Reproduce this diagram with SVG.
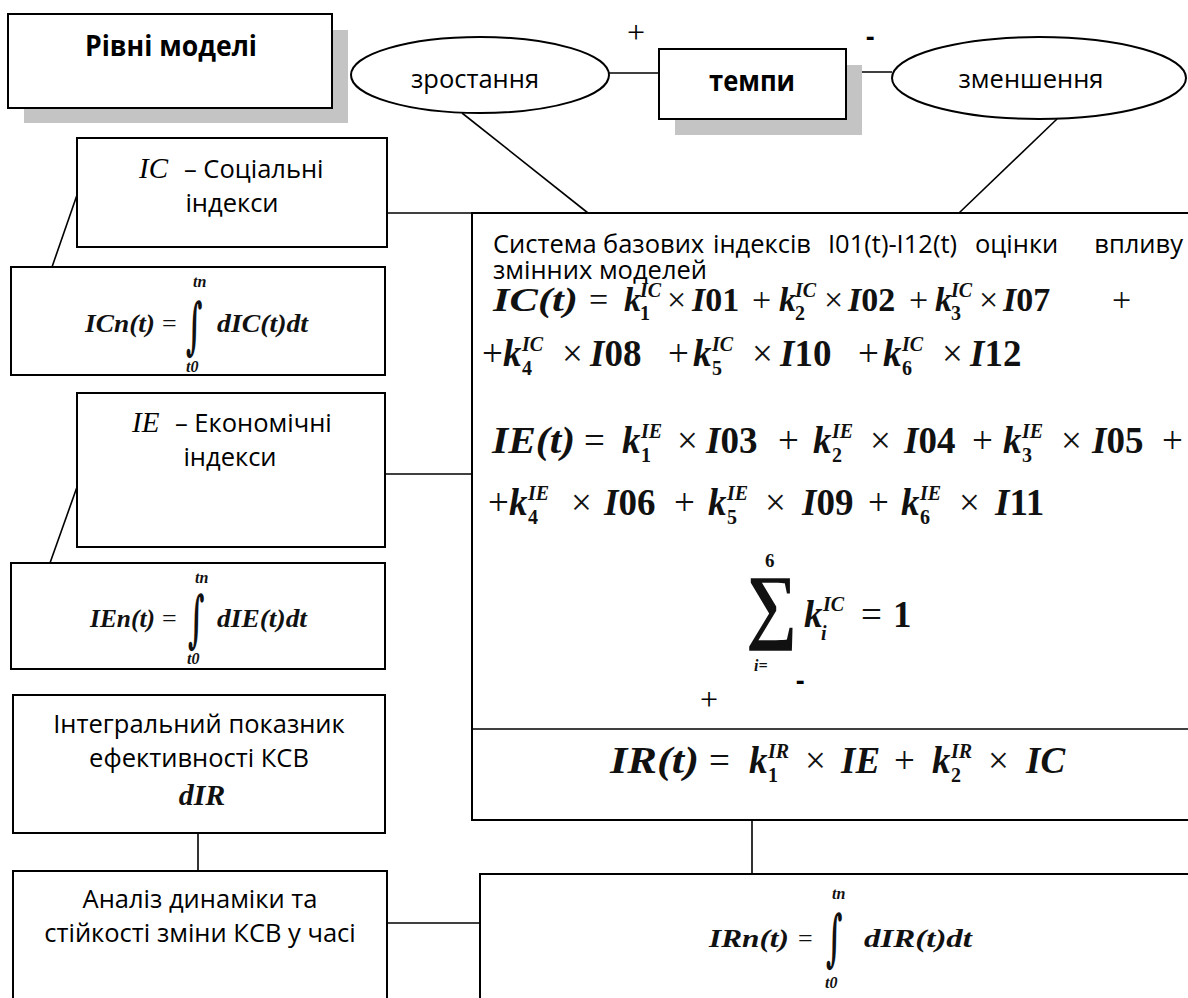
<svg xmlns="http://www.w3.org/2000/svg" width="1188" height="998" viewBox="0 0 1188 998">
<style>
.box{fill:#fff;stroke:#000;stroke-width:2}
.sh{fill:#c4c4c4;stroke:none}
.ln{stroke:#000;stroke-width:1.6;fill:none}
.t{font-family:"Open Sans","Noto Sans",sans-serif;font-size:25.5px;fill:#000}
.b{font-family:"Open Sans","Noto Sans",sans-serif;font-size:28px;font-weight:bold;fill:#000}
.c{text-anchor:middle}
.ti{font-family:"Liberation Serif",serif;font-style:italic;font-size:29px;fill:#000}
.m{font-family:"Liberation Serif",serif;font-style:italic;font-weight:bold;fill:#111}
.u{font-family:"Liberation Serif",serif;font-weight:bold;fill:#111}
.o{font-family:"Liberation Serif",serif;fill:#111}
.int{font-family:"DejaVu Serif",serif;font-weight:bold;fill:#111}
.f1{font-size:34px}
.f2{font-size:37px}
.fs{font-size:20px}
.fi{font-size:26px}
.fss{font-size:16px}
.pm{font-family:"Liberation Serif",serif;font-size:32px;fill:#000}
.mn{font-family:"Open Sans",sans-serif;font-weight:bold;font-size:26px;fill:#000}
</style>

<g id="connectors">
<line class="ln" x1="462" y1="113" x2="588" y2="213"/>
<line class="ln" x1="1057" y1="119" x2="959" y2="213"/>
<line class="ln" x1="609" y1="73" x2="659" y2="73"/>
<line class="ln" x1="846" y1="72" x2="892" y2="72"/>
<line class="ln" x1="387" y1="213" x2="472" y2="213"/>
<line class="ln" x1="77" y1="195" x2="52" y2="267"/>
<line class="ln" x1="385" y1="474" x2="472" y2="474"/>
<line class="ln" x1="77" y1="487" x2="50" y2="563"/>
<line class="ln" x1="752" y1="657" x2="752" y2="729"/>
<line class="ln" x1="752" y1="820" x2="752" y2="874"/>
<line class="ln" x1="198" y1="833" x2="198" y2="871"/>
<line class="ln" x1="387" y1="923" x2="480" y2="923"/>
</g>

<g id="levels">
<rect class="sh" x="24" y="30" width="324" height="93"/>
<rect class="box" x="8" y="14" width="324" height="94"/>
<text class="b c" x="171" y="56" textLength="172" lengthAdjust="spacingAndGlyphs">Рівні моделі</text>
</g>

<g id="growth">
<ellipse class="box" cx="480" cy="75" rx="129" ry="38" stroke-width="1.6"/>
<text class="t c" x="475" y="88" font-size="27">зростання</text>
</g>

<g id="rates">
<rect class="sh" x="675" y="65" width="187" height="70"/>
<rect class="box" x="659" y="49" width="187" height="70"/>
<text class="b c" x="752" y="91" textLength="86" lengthAdjust="spacingAndGlyphs">темпи</text>
<text class="pm" x="627" y="43">+</text>
<text class="mn" x="866" y="46">-</text>
</g>

<g id="decrease">
<ellipse class="box" cx="1039" cy="78" rx="147" ry="41" stroke-width="1.6"/>
<text class="t c" x="1031" y="88" font-size="27">зменшення</text>
</g>

<g id="ic">
<rect class="box" x="77" y="138" width="310" height="109"/>
<text x="139" y="178"><tspan class="ti">IC</tspan><tspan class="t" x="184">– Соціальні</tspan></text>
<text class="t c" x="232" y="212">індекси</text>
</g>

<g id="icn">
<rect class="box" x="11" y="267" width="374" height="108"/>
<text class="m fi" x="85" y="332" textLength="70" lengthAdjust="spacingAndGlyphs">ICn(t)</text>
<text class="o fi" x="162" y="332">=</text>
<text class="int" font-size="44" transform="translate(186,347) scale(0.65,1.4)">∫</text>
<text class="m fss" x="193" y="287">tn</text>
<text class="m fss" x="186" y="372">t0</text>
<text class="m fi" x="217" y="332" textLength="91" lengthAdjust="spacingAndGlyphs">dIC(t)dt</text>
</g>

<g id="ie">
<rect class="box" x="77" y="393" width="308" height="154"/>
<text x="132" y="432"><tspan class="ti">IE</tspan><tspan class="t" x="175">– Економічні</tspan></text>
<text class="t c" x="230" y="466">індекси</text>
</g>

<g id="ien">
<rect class="box" x="11" y="563" width="374" height="106"/>
<text class="m fi" x="90" y="627" textLength="65" lengthAdjust="spacingAndGlyphs">IEn(t)</text>
<text class="o fi" x="162" y="627">=</text>
<text class="int" font-size="44" transform="translate(188,640) scale(0.65,1.4)">∫</text>
<text class="m fss" x="195" y="583">tn</text>
<text class="m fss" x="187" y="664">t0</text>
<text class="m fi" x="217" y="627" textLength="90" lengthAdjust="spacingAndGlyphs">dIE(t)dt</text>
</g>

<g id="system">
<rect class="box" x="472" y="213" width="730" height="607"/>
<text class="t" x="493" y="253">Система</text>
<text class="t" x="603" y="253">базових</text>
<text class="t" x="713" y="253">індексів</text>
<text class="t" x="828" y="253">I01(t)-I12(t)</text>
<text class="t" x="975" y="253">оцінки</text>
<text class="t" x="1183" y="253" text-anchor="end">впливу</text>
<text class="t" x="493" y="279">змінних моделей</text>

<g class="f1">
<text class="m" x="493" y="311" textLength="85" lengthAdjust="spacingAndGlyphs">IC(t)</text>
<text class="o" x="589" y="311">=</text>
<text class="m" x="624" y="311">k</text><text class="m fs" x="640" y="297">IC</text><text class="u fs" x="640" y="320">1</text>
<text class="o" x="667" y="311">×</text>
<text class="u" x="692" y="311"><tspan class="m">I</tspan>01</text>
<text class="o" x="752" y="311">+</text>
<text class="m" x="779" y="311">k</text><text class="m fs" x="795" y="297">IC</text><text class="u fs" x="795" y="320">2</text>
<text class="o" x="824" y="311">×</text>
<text class="u" x="848" y="311"><tspan class="m">I</tspan>02</text>
<text class="o" x="909" y="311">+</text>
<text class="m" x="935" y="311">k</text><text class="m fs" x="951" y="297">IC</text><text class="u fs" x="951" y="320">3</text>
<text class="o" x="979" y="311">×</text>
<text class="u" x="1003" y="311"><tspan class="m">I</tspan>07</text>
<text class="o" x="1112" y="311">+</text>
</g>

<g class="f2">
<text class="o" x="482" y="366">+</text>
<text class="m" x="503" y="366">k</text><text class="m fs" x="522" y="351">IC</text><text class="u fs" x="522" y="375">4</text>
<text class="o" x="562" y="366">×</text>
<text class="u" x="590" y="366"><tspan class="m">I</tspan>08</text>
<text class="o" x="668" y="366">+</text>
<text class="m" x="693" y="366">k</text><text class="m fs" x="712" y="351">IC</text><text class="u fs" x="712" y="375">5</text>
<text class="o" x="752" y="366">×</text>
<text class="u" x="780" y="366"><tspan class="m">I</tspan>10</text>
<text class="o" x="858" y="366">+</text>
<text class="m" x="883" y="366">k</text><text class="m fs" x="902" y="351">IC</text><text class="u fs" x="902" y="375">6</text>
<text class="o" x="942" y="366">×</text>
<text class="u" x="970" y="366"><tspan class="m">I</tspan>12</text>
</g>

<g class="f2">
<text class="m" x="492" y="453" textLength="83" lengthAdjust="spacingAndGlyphs">IE(t)</text>
<text class="o" x="584" y="453">=</text>
<text class="m" x="622" y="453">k</text><text class="m fs" x="641" y="438">IE</text><text class="u fs" x="641" y="462">1</text>
<text class="o" x="677" y="453">×</text>
<text class="u" x="706" y="453"><tspan class="m">I</tspan>03</text>
<text class="o" x="778" y="453">+</text>
<text class="m" x="813" y="453">k</text><text class="m fs" x="832" y="438">IE</text><text class="u fs" x="832" y="462">2</text>
<text class="o" x="870" y="453">×</text>
<text class="u" x="904" y="453"><tspan class="m">I</tspan>04</text>
<text class="o" x="972" y="453">+</text>
<text class="m" x="1003" y="453">k</text><text class="m fs" x="1022" y="438">IE</text><text class="u fs" x="1022" y="462">3</text>
<text class="o" x="1061" y="453">×</text>
<text class="u" x="1092" y="453"><tspan class="m">I</tspan>05</text>
<text class="o" x="1162" y="453">+</text>
</g>

<g class="f2">
<text class="o" x="488" y="515">+</text>
<text class="m" x="509" y="515">k</text><text class="m fs" x="528" y="500">IE</text><text class="u fs" x="528" y="524">4</text>
<text class="o" x="571" y="515">×</text>
<text class="u" x="604" y="515"><tspan class="m">I</tspan>06</text>
<text class="o" x="674" y="515">+</text>
<text class="m" x="708" y="515">k</text><text class="m fs" x="727" y="500">IE</text><text class="u fs" x="727" y="524">5</text>
<text class="o" x="765" y="515">×</text>
<text class="u" x="802" y="515"><tspan class="m">I</tspan>09</text>
<text class="o" x="868" y="515">+</text>
<text class="m" x="901" y="515">k</text><text class="m fs" x="920" y="500">IE</text><text class="u fs" x="920" y="524">6</text>
<text class="o" x="959" y="515">×</text>
<text class="u" x="995" y="515"><tspan class="m">I</tspan>11</text>
</g>

<text class="u" font-size="19" x="765" y="567">6</text>
<text class="u" font-size="62" transform="translate(746,633) scale(1.15,1.35)">∑</text>
<text class="m f2" x="804" y="627">k</text><text class="m fs" x="823" y="611">IC</text><text class="m fs" x="821" y="640">i</text>
<text class="o f2" x="861" y="627">=</text>
<text class="u f2" x="893" y="627">1</text>
<text class="m" font-size="16" x="754" y="671">i=</text>
<text class="pm" x="700" y="710">+</text>
<text class="mn" x="796" y="690">-</text>
</g>

<g id="ir">
<line class="ln" x1="472" y1="729" x2="1188" y2="729"/>
<g class="f2">
<text class="m" x="610" y="773" textLength="89" lengthAdjust="spacingAndGlyphs">IR(t)</text>
<text class="o" x="709" y="773">=</text>
<text class="m" x="749" y="773">k</text><text class="m fs" x="768" y="758">IR</text><text class="u fs" x="768" y="782">1</text>
<text class="o" x="805" y="773">×</text>
<text class="m" x="841" y="773">IE</text>
<text class="o" x="894" y="773">+</text>
<text class="m" x="932" y="773">k</text><text class="m fs" x="951" y="758">IR</text><text class="u fs" x="951" y="782">2</text>
<text class="o" x="988" y="773">×</text>
<text class="m" x="1026" y="773">IC</text>
</g>
</g>

<g id="integral">
<rect class="box" x="13" y="695" width="372" height="138"/>
<text class="t c" x="199" y="733">Інтегральний показник</text>
<text class="t c" x="199" y="767">ефективності КСВ</text>
<text class="m c" font-size="30" x="202" y="805">dIR</text>
</g>

<g id="analysis">
<rect class="box" x="13" y="871" width="374" height="140"/>
<text class="t c" x="200" y="908">Аналіз динаміки та</text>
<text class="t c" x="200" y="942">стійкості зміни КСВ у часі</text>
</g>

<g id="irn">
<rect class="box" x="480" y="874" width="720" height="140"/>
<text class="m fi" x="709" y="947" textLength="80" lengthAdjust="spacingAndGlyphs">IRn(t)</text>
<text class="o fi" x="798" y="947">=</text>
<text class="int" font-size="44" transform="translate(826,959) scale(0.65,1.4)">∫</text>
<text class="m fss" x="832" y="899">tn</text>
<text class="m fss" x="825" y="988">t0</text>
<text class="m fi" x="864" y="947" textLength="108" lengthAdjust="spacingAndGlyphs">dIR(t)dt</text>
</g>
</svg>
